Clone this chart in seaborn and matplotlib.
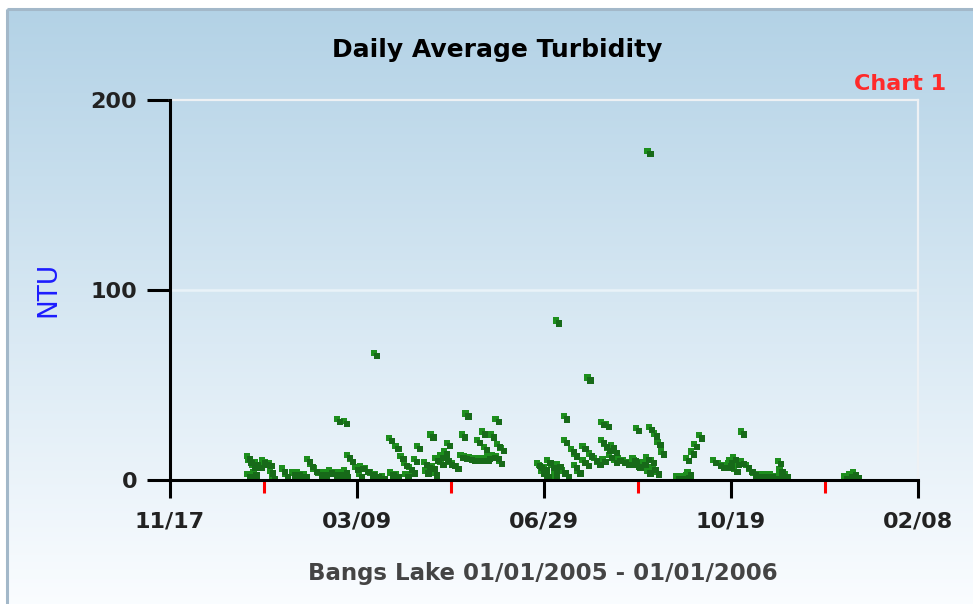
import pandas as pd
import seaborn as sb
import numpy as np
import matplotlib.pyplot as plt
from matplotlib.transforms import offset_copy


# daily average turbidity, days counted from 01/01/2005
aDays = [1, 1, 2, 4, 5, 6, 8, 10, 12, 14, 15, 16, 22, 24, 28, 31, 33, 35, 37, 39,
         41, 44, 47, 50, 53, 55, 56, 58, 59, 59, 60, 61, 63, 66, 68, 69, 72, 75, 77, 78,
         82, 86, 87, 90, 90, 93, 95, 96, 98, 100, 101, 103, 107, 108, 109, 111, 112, 113, 114, 117,
         117, 119, 120, 121, 122, 124, 126, 129, 130, 131, 132, 134, 136, 138, 139, 141, 142, 143, 144, 145,
         147, 148, 150, 150, 151, 152, 153,
         175, 176, 177, 178, 179, 179, 180, 181, 183, 185, 185, 186, 187, 190, 191, 191, 192, 195, 197,
         197, 199, 202, 202, 204, 205, 206, 209, 211, 213, 213, 214, 215, 216, 217, 218, 219, 221, 221, 223,
         226, 228, 231, 232, 233, 234, 234, 235, 238, 240, 241, 241, 242, 243, 244, 245, 246, 247, 249, 258,
         261, 264, 264, 265, 267, 269, 272, 280, 283, 285, 287, 289, 290, 290, 292, 293, 294, 297, 297, 300,
         302, 304, 307, 310, 312, 314, 317, 319, 320, 320, 323, 359, 362, 364, 366]
aNtu = [12.6, 3, 10.5, 8, 4, 9.5, 8, 10.5, 9.5, 9, 5, 2, 6, 3, 4, 4, 3, 3, 11, 8.5,
        6, 4, 4, 5, 4, 32, 4, 4, 31, 5, 3, 13, 11, 7, 3, 7.5, 6, 4, 67, 3,
        2, 22, 4, 18, 3, 12.5, 9, 3, 7, 5, 11, 18, 9.5, 5, 8, 24, 7.5, 4, 11.5, 9.5,
        13, 15, 11.5, 19.5, 9.5, 9, 7.5, 13, 24, 12.5, 35, 12, 11.5, 11.5, 21, 11.5, 25.5, 17.5, 11.5, 12.5,
        24, 13, 32, 12.5, 19, 10, 17,
        9, 8, 5, 6.5, 4, 7, 3, 10.5, 8, 5, 2, 84, 8.5, 5, 33.5, 21, 3, 16.5, 14,
        8, 5, 10.5, 18, 9, 54, 14, 11.5, 9.5, 30.5, 21, 11, 19, 29.5, 17, 13, 18.5, 10.5, 16, 11.5,
        10.5, 9.5, 9.5, 11.5, 10.5, 27.5, 8.5, 8, 9.5, 12, 173, 5, 28, 10.5, 7, 24.5, 4.5, 20, 15, 2,
        2, 2.5, 11.5, 4, 15, 19, 23.5, 10.5, 9, 8, 8, 9, 8, 10.5, 12, 6, 9.5, 10, 25.5, 8,
        6, 4, 3, 3, 3, 3, 2, 10, 5.5, 2, 3, 2, 3, 4, 2.5]

oData = pd.DataFrame({"date": pd.Timestamp("2005-01-01") + pd.to_timedelta(aDays, unit="D"),
                      "ntu": aNtu})

aMajor = pd.date_range("2004-11-17", periods=5, freq="112D")
aMinor = pd.date_range("2005-01-12", periods=4, freq="112D")
aYTicks = [0, 100, 200]

plt.rcParams["font.family"] = ["DejaVu Sans"]

oFig = plt.figure(figsize=(9.73, 6.04), dpi=100, facecolor="w")

# gradient panel behind the chart
oBg = oFig.add_axes([0, 0, 1, 1], zorder=-10)
oBg.set_xlim(0, 1)
oBg.set_ylim(0, 1)
oBg.axis("off")
aTop = np.array([0.702, 0.824, 0.902])
aBot = np.array([0.98, 0.99, 1.0])
t = np.linspace(0, 1, 256).reshape(-1, 1, 1)
aGrad = aTop * (1 - t) + aBot * t
fL, fT = 7 / 973, 1 - 9 / 604
oBg.imshow(aGrad, extent=[fL, 1, 0, fT], aspect="auto", origin="upper")
oBg.plot([fL, fL], [0, fT], color="#a3b8c9", lw=2.2, solid_capstyle="butt")
oBg.plot([fL, 1], [fT, fT], color="#a3b8c9", lw=2.2, solid_capstyle="butt")

# plot area
oAx = oFig.add_axes([170 / 973, 1 - 480 / 604, 748 / 973, 380 / 604])
oAx.patch.set_alpha(0)

oAx.axhline(100, color="white", alpha=0.5, lw=1.8, zorder=0)

sb.scatterplot(data=oData, x="date", y="ntu", marker="s", s=20, color="#1d8f1d",
               edgecolor="none", linewidth=0, legend=False, ax=oAx, zorder=3)
oShift = offset_copy(oAx.transData, fig=oFig, x=2.2, y=-2.2, units="points")
sb.scatterplot(data=oData, x="date", y="ntu", marker="s", s=20, color="#176a19",
               edgecolor="none", linewidth=0, legend=False, ax=oAx, zorder=3,
               transform=oShift)

oAx.set_xlim(aMajor[0], aMajor[-1])
oAx.set_ylim(0, 200)

for sSide in ["top", "right"]:
    oAx.spines[sSide].set_color("#eef1f4")
    oAx.spines[sSide].set_linewidth(1.6)
for sSide in ["left", "bottom"]:
    oAx.spines[sSide].set_color("black")
    oAx.spines[sSide].set_linewidth(2.2)
    oAx.spines[sSide].set_zorder(4)

oAx.set_xticks(aMajor)
oAx.set_xticklabels([d.strftime("%m/%d") for d in aMajor])
oAx.set_xticks(aMinor, minor=True)
oAx.set_yticks(aYTicks)
oAx.set_yticklabels([str(v) for v in aYTicks])

oAx.tick_params(axis="x", which="major", direction="out", length=13, width=2.2,
                color="black", pad=10, labelsize=16, labelcolor="#222222")
oAx.tick_params(axis="x", which="minor", direction="out", length=9, width=2.2,
                color="#ff0000")
oAx.tick_params(axis="y", which="major", direction="out", length=16.5, width=2.2,
                color="black", pad=7, labelsize=16, labelcolor="#222222")
for oLab in oAx.get_xticklabels() + oAx.get_yticklabels():
    oLab.set_fontweight("bold")

oAx.set_xlabel("")
oAx.set_ylabel("")

oFig.text(0.511, 0.917, "Daily Average Turbidity", ha="center", va="center",
          fontsize=18, fontweight="bold", color="black")
oFig.text(0.972, 0.861, "Chart 1", ha="right", va="center",
          fontsize=16, fontweight="bold", color="#ff2a2a")
oFig.text(0.558, 0.051, "Bangs Lake 01/01/2005 - 01/01/2006", ha="center", va="center",
          fontsize=16.5, fontweight="bold", color="#444444")
oFig.text(0.050, 0.52, "NTU", ha="center", va="center", rotation=90,
          fontsize=19, color="#1c1cff")

oFig.savefig("out.png", dpi=100)
